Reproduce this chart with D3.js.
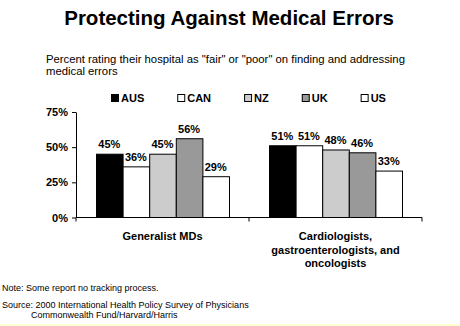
<!DOCTYPE html>
<html>
<head>
<meta charset="utf-8">
<script src="https://d3js.org/d3.v7.min.js"></script>
<style>
    body { background: #fff; margin: 0; font-family: "Liberation Sans", Arial, sans-serif; }
    svg { display: block; }
</style>
</head>
<body>
<svg width="460" height="326"></svg>
<script>
    const categories = [["Generalist MDs"], ["Cardiologists,", "gastroenterologists, and", "oncologists"]];
    const countries = ["AUS", "CAN", "NZ", "UK", "US"];
    const colors = ["#000000", "#ffffff", "#cccccc", "#999999", "#ffffff"];
    const values = [
        [45, 36, 45, 56, 29],
        [51, 51, 48, 46, 33]
    ];
    const yTicks = [0, 25, 50, 75];

    const svg = d3.select("svg");
    const font = '"Liberation Sans", Arial, sans-serif';

    // title + subtitle
    svg.append("text").attr("x", 229).attr("y", 25).attr("text-anchor", "middle")
        .attr("font-size", 20.5).attr("font-weight", "bold").text("Protecting Against Medical Errors");
    svg.append("text").attr("x", 46).attr("y", 63).attr("font-size", 11.3)
        .text('Percent rating their hospital as "fair" or "poor" on finding and addressing');
    svg.append("text").attr("x", 46).attr("y", 75).attr("font-size", 11.3).text("medical errors");

    const x0 = d3.scaleBand().domain(d3.range(categories.length)).range([76, 422]);
    const x1 = d3.scaleBand().domain(countries).range([20, x0.bandwidth() - 20]);
    const y = d3.scaleLinear().domain([0, 75]).range([217.5, 112]);

    // legend
    const legend = svg.append("g").attr("font-size", 11).attr("font-weight", "bold");
    let lx = 111;
    countries.forEach((c, i) => {
        legend.append("rect").attr("x", lx + 0.5).attr("y", 94.5).attr("width", 7).attr("height", 7)
            .attr("fill", colors[i]).attr("stroke", "#000");
        const t = legend.append("text").attr("x", lx + 10).attr("y", 102).text(c);
        lx += 10 + t.node().getComputedTextLength() + 33;
    });

    // bars
    const groups = svg.selectAll("g.grp").data(values).enter().append("g")
        .attr("class", "grp").attr("transform", (d, i) => `translate(${x0(i)},0)`);
    groups.selectAll("rect").data(d => d).enter().append("rect")
        .attr("x", (d, i) => x1(countries[i]) + 0.5)
        .attr("y", d => y(d))
        .attr("width", x1.bandwidth())
        .attr("height", d => y(0) - y(d))
        .attr("fill", (d, i) => colors[i])
        .attr("stroke", "#000").attr("stroke-width", 1);
    groups.selectAll("text").data(d => d).enter().append("text")
        .attr("x", (d, i) => x1(countries[i]) + x1.bandwidth() / 2)
        .attr("y", d => y(d) - 6)
        .attr("text-anchor", "middle").attr("font-size", 11).attr("font-weight", "bold")
        .text(d => d + "%");

    // axes
    const yAxis = svg.append("g").attr("transform", "translate(76,0)")
        .call(d3.axisLeft(y).tickValues(yTicks).tickSize(4).tickSizeOuter(0).tickFormat(d => d + "%"));
    yAxis.selectAll("text").attr("font-size", 11).attr("font-weight", "bold").attr("font-family", font).attr("fill", "#000").attr("x", -8);
    yAxis.selectAll("line, path").attr("stroke", "#000");

    const xAxis = svg.append("g").attr("transform", `translate(0,${y(0)})`);
    xAxis.append("line").attr("x1", 76).attr("x2", 422).attr("stroke", "#000");
    xAxis.selectAll("line.tk").data(d3.range(categories.length + 1)).enter().append("line")
        .attr("class", "tk")
        .attr("x1", i => i < categories.length ? x0(i) : x0.range()[1])
        .attr("x2", i => i < categories.length ? x0(i) : x0.range()[1])
        .attr("y2", 4).attr("stroke", "#000");

    // category labels
    categories.forEach((lines, i) => {
        const t = svg.append("text").attr("text-anchor", "middle").attr("font-size", 11).attr("font-weight", "bold");
        lines.forEach((l, j) => {
            t.append("tspan").attr("x", x0(i) + x0.bandwidth() / 2).attr("y", 240 + j * 13.5).text(l);
        });
    });

    // notes
    const notes = svg.append("g").attr("font-size", 9);
    notes.append("text").attr("x", 2).attr("y", 291).text("Note: Some report no tracking process.");
    notes.append("text").attr("x", 2).attr("y", 308).text("Source: 2000 International Health Policy Survey of Physicians");
    notes.append("text").attr("x", 31).attr("y", 318).text("Commonwealth Fund/Harvard/Harris");

    svg.append("rect").attr("x", 0).attr("y", 324).attr("width", 460).attr("height", 2).attr("fill", "#ffffd0");
</script>
</body>
</html>
